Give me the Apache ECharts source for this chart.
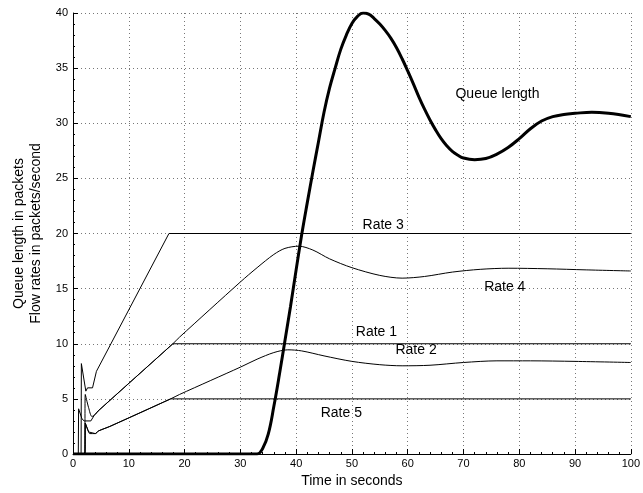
<!DOCTYPE html>
<html>
<head>
<meta charset="utf-8">
<script src="https://cdn.jsdelivr.net/npm/echarts@6/dist/echarts.min.js"></script>
<style>
  html, body { margin: 0; padding: 0; background: #fff; }
  #main { width: 643px; height: 493px; }
</style>
</head>
<body>
<div id="main"></div>
<script>
// time (s), value pairs
var queueLength = [
  [0, 0], [33, 0], [34, 0.5], [35, 1.8], [36, 4.3], [37, 7.2], [38, 10.3],
  [39, 13.4], [40, 16.7], [41, 19.9], [42, 22.8], [43, 25.6], [44, 28.3], [45, 31.0],
  [46, 33.2], [47, 35.0], [48, 36.7], [49, 38.0], [50, 39.05], [51, 39.7], [52, 40.0],
  [53, 39.9], [54, 39.5], [55, 39.0], [56, 38.4], [57, 37.7], [58, 36.85], [59, 35.85],
  [60, 34.75], [61, 33.6], [62, 32.4], [63, 31.3], [64, 30.3], [65, 29.4], [66, 28.6],
  [67, 27.95], [68, 27.45], [69, 27.1], [70, 26.85], [72, 26.7], [74, 26.8], [76, 27.2],
  [78, 27.8], [80, 28.6], [82, 29.5], [84, 30.2], [86, 30.6], [88, 30.8], [90, 30.9],
  [93, 31.0], [96, 30.9], [100, 30.6]
];
var rate1 = [
  [0, 0], [0.95, 0], [1.0, 4.1], [1.6, 3.2], [2.0, 3.0], [3.2, 3.0], [3.8, 3.5],
  [4.5, 3.9], [17.9, 10], [100, 10]
];
var rate2 = [
  [0, 0], [2.15, 0], [2.2, 2.8], [2.8, 2.0], [3.0, 1.85], [4.0, 1.85], [4.6, 2.1],
  [6.6, 2.5], [17.5, 5], [19.1, 5.4], [30.1, 7.9], [33, 8.6], [36, 9.2], [38.5, 9.45],
  [41, 9.35], [45, 8.9], [50, 8.4], [55, 8.1], [59, 8.0], [64, 8.05], [70, 8.3],
  [76, 8.45], [82, 8.45], [90, 8.4], [100, 8.3]
];
var rate3 = [
  [0, 0], [1.45, 0], [1.5, 8.2], [2.3, 5.7], [2.6, 6.0], [3.5, 6.0], [4.2, 7.5],
  [17.2, 20], [100, 20]
];
var rate4 = [
  [0, 0], [2.1, 0], [2.2, 5.4], [2.8, 4.2], [3.4, 3.4], [4.0, 3.6], [4.5, 3.9],
  [17.9, 10], [19.1, 10.6], [30, 15.6], [33, 16.9], [36, 18.1], [38, 18.65], [40.5, 18.85],
  [43, 18.5], [46, 17.7], [50, 16.9], [55, 16.2], [59, 15.95], [63, 16.1], [68, 16.5],
  [73, 16.75], [78, 16.85], [85, 16.8], [92, 16.7], [100, 16.6]
];
var rate5 = [
  [0, 0], [2.15, 0], [2.2, 2.8], [2.8, 2.0], [3.0, 1.85], [4.0, 1.85], [4.6, 2.1],
  [6.6, 2.5], [17.5, 5], [100, 5]
];

var xTicks = { min: 0, max: 100, interval: 10 };
var yTicks = { min: 0, max: 40, interval: 5 };

var font = "'Liberation Sans', Arial, Helvetica, sans-serif";

function lineSeries(name, data, width, smooth, labelAt) {
  return {
    name: name,
    type: "line",
    data: data,
    showSymbol: false,
    symbol: "none",
    smooth: smooth,
    lineStyle: { color: "#000", width: width },
    z: width > 1 ? 5 : 3,
    markPoint: {
      symbol: "circle",
      symbolSize: 0,
      label: { show: true, formatter: name, color: "#000", fontSize: 14, fontFamily: font },
      data: [{ coord: labelAt }]
    }
  }
}

var chart = echarts.init(document.getElementById("main"))
var option = {
  animation: false,
  backgroundColor: "#fff",
  grid: { left: 73, right: 9, top: 13, bottom: 39 },
  xAxis: {
    type: "value",
    min: xTicks.min,
    max: xTicks.max,
    interval: xTicks.interval,
    name: "Time in seconds",
    nameLocation: "middle",
    nameGap: 18,
    nameTextStyle: { color: "#000", fontSize: 14, fontFamily: font },
    axisLine: { show: true, lineStyle: { color: "#000", width: 1 } },
    axisTick: { show: true, inside: true, length: 5, lineStyle: { color: "#000" } },
    minorTick: { show: true, splitNumber: 5, length: 2, lineStyle: { color: "#000" } },
    axisLabel: { color: "#000", fontSize: 11, fontFamily: font, margin: 4 },
    splitLine: { show: true, lineStyle: { color: "#777", type: [1, 3], width: 1 } }
  },
  yAxis: {
    type: "value",
    min: yTicks.min,
    max: yTicks.max,
    interval: yTicks.interval,
    name: "Queue length in packets\nFlow rates in packets/second",
    nameLocation: "middle",
    nameGap: 28,
    nameTextStyle: { color: "#000", fontSize: 14, fontFamily: font, lineHeight: 17 },
    axisLine: { show: true, lineStyle: { color: "#000", width: 1 } },
    axisTick: { show: true, inside: true, length: 5, lineStyle: { color: "#000" } },
    minorTick: { show: true, splitNumber: 5, length: 2, lineStyle: { color: "#000" } },
    axisLabel: { color: "#000", fontSize: 11, fontFamily: font, margin: 5 },
    splitLine: { show: true, lineStyle: { color: "#777", type: [1, 3], width: 1 } }
  },
  series: [
    lineSeries("Rate 1", rate1, 1, false, [54.4, 11.05]),
    lineSeries("Rate 2", rate2, 1, 0.3, [61.5, 9.4]),
    lineSeries("Rate 3", rate3, 1, false, [55.6, 20.75]),
    lineSeries("Rate 4", rate4, 1, 0.3, [77.4, 15.1]),
    lineSeries("Rate 5", rate5, 1, false, [48.1, 3.7]),
    lineSeries("Queue length", queueLength, 3, 0.4, [76.1, 32.6])
  ]
}
chart.setOption(option)
</script>
</body>
</html>
